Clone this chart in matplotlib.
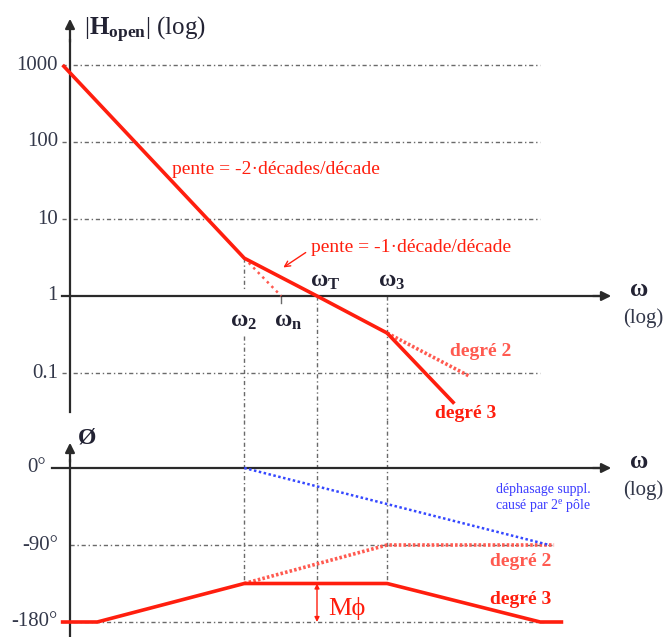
import matplotlib
matplotlib.use('Agg')
import matplotlib.pyplot as plt

plt.rcParams['font.family'] = ['Liberation Serif', 'DejaVu Serif']
plt.rcParams['mathtext.fontset'] = 'custom'
plt.rcParams['mathtext.rm'] = 'Liberation Serif'
plt.rcParams['mathtext.bf'] = 'Liberation Serif:bold'
plt.rcParams['mathtext.it'] = 'Liberation Serif:italic'

# ---------------- data ----------------
mag_ticks = [1000, 100, 10, 1, 0.1]
mag_tick_labels = ['1000', '100', '10', '1', '0.1']
phase_ticks = [0, -90, -180]
phase_tick_labels = ['0°', '-90°', '-180°']

w2 = 0.32
wn = 0.57
wT = 1.0
w3 = 3.0

mag_omega = [0.0186, 0.32, 1.0, 3.0]
mag_main = [1000, 3.1, 1.0, 0.33]
deg3_mag_omega = [3.0, 8.6]
deg3_mag = [0.33, 0.04]
deg2_mag_omega = [3.0, 11.0]
deg2_mag = [0.33, 0.09]
asym_omega = [0.32, 0.57]
asym_mag = [3.1, 1.0]

deg3_phase_omega = [0.0186, 0.032, 0.32, 3.0, 33, 46]
deg3_phase = [-180, -180, -135, -135, -180, -180]
deg2_phase_omega = [0.32, 3.0, 41]
deg2_phase = [-135, -90, -90]
extra_phase_omega = [0.32, 38]
extra_phase = [0, -90]
margin_phase = [-135, -180]

# ------------- helpers (pixel -> data for layout) -------------
def px2w(px):
    return 10 ** ((px - 317) / 147)

def py2mag(py):
    return 10 ** ((296 - py) / 77)

def py2ph(py):
    return (468 - py) * 90 / 77

RED = '#ff1e0e'
RED2 = '#ff5a50'
AX = '#2a2a2a'
TXT = '#33384a'
DARK = '#222233'
GRID = '#6a6a6a'
GLS = (0, (3, 2, 1, 2))

fig = plt.figure(figsize=(6.65, 6.37), dpi=100)
ax1 = fig.add_axes([0, 217 / 637, 1, 420 / 637])
ax2 = fig.add_axes([0, 0, 1, 217 / 637])
for ax in (ax1, ax2):
    ax.set_xscale('log')
    ax.set_xlim(px2w(0), px2w(665))
    ax.axis('off')
ax1.set_yscale('log')
ax1.set_ylim(py2mag(420), py2mag(0))
ax2.set_ylim(py2ph(637), py2ph(420))

xa = px2w(70)

# ---------- top panel ----------
for t, lab in zip(mag_ticks, mag_tick_labels):
    if t != 1:
        ax1.plot([px2w(62), px2w(540)], [t, t], color=GRID, lw=1, ls=GLS, zorder=1)
    ax1.text(px2w(58), t, lab, ha='right', va='center', fontsize=15, color=TXT)
ax1.plot([xa, xa], [py2mag(412), py2mag(40)], color=AX, lw=1.6, zorder=3)
ax1.annotate('', xy=(xa, py2mag(16)), xytext=(xa, py2mag(45)),
             arrowprops=dict(arrowstyle='-|>', color=AX, lw=1.6, mutation_scale=14))
ax1.plot([px2w(62), px2w(600)], [1, 1], color=AX, lw=1.6, zorder=3)
ax1.annotate('', xy=(px2w(614), 1), xytext=(px2w(590), 1),
             arrowprops=dict(arrowstyle='-|>', color=AX, lw=1.6, mutation_scale=14))

ax1.plot([w2, w2], [asym_mag[0], py2mag(290)], color=GRID, lw=1, ls=GLS, zorder=1)
ax1.plot([w2, w2], [py2mag(336), py2mag(420)], color=GRID, lw=1, ls=GLS, zorder=1)
ax1.plot([wn, wn], [1, py2mag(303)], color=GRID, lw=1, zorder=1)
ax1.plot([wT, wT], [1, py2mag(420)], color=GRID, lw=1, ls=GLS, zorder=1)
ax1.plot([w3, w3], [1, py2mag(420)], color=GRID, lw=1, ls=GLS, zorder=1)

ax1.plot(mag_omega, mag_main, color=RED, lw=2.6, zorder=5, solid_capstyle='butt')
ax1.plot(deg3_mag_omega, deg3_mag, color=RED, lw=2.6, zorder=5, solid_capstyle='butt')
ax1.plot(deg2_mag_omega, deg2_mag, color=RED2, lw=2.6, ls=(0, (0.7, 0.6)), zorder=4)
ax1.plot(asym_omega, asym_mag, color=RED2, lw=1.8, ls=(0, (1, 1.6)), zorder=4)

ax1.text(px2w(84), py2mag(30), r'$|\mathbf{H}_{\mathbf{open}}|$ (log)', ha='left',
         va='center', fontsize=18, color=DARK)
ax1.text(px2w(639), py2mag(290), r'$\mathbf{\omega}$', ha='center', va='center',
         fontsize=18, color=DARK)
ax1.text(px2w(643), py2mag(318), '(log)', ha='center', va='center', fontsize=15,
         color=TXT)
ax1.text(px2w(172), py2mag(170), 'pente = -2·décades/décade', ha='left', va='center',
         fontsize=14, color=RED)
ax1.text(px2w(311), py2mag(247), 'pente = -1·décade/décade', ha='left', va='center',
         fontsize=14, color=RED)
ax1.annotate('', xy=(px2w(281), py2mag(269)), xytext=(px2w(308), py2mag(251)),
             arrowprops=dict(arrowstyle='->', color=RED, lw=1, mutation_scale=10))
ax1.text(px2w(244), py2mag(322), r'$\mathbf{\omega_2}$', ha='center', va='center',
         fontsize=17, color=DARK)
ax1.text(px2w(288), py2mag(322), r'$\mathbf{\omega_n}$', ha='center',
         va='center', fontsize=17, color=DARK)
ax1.text(px2w(325), py2mag(282), r'$\mathbf{\omega_T}$', ha='center',
         va='center', fontsize=17, color=DARK)
ax1.text(px2w(392), py2mag(282), r'$\mathbf{\omega_3}$', ha='center', va='center',
         fontsize=17, color=DARK)
ax1.text(px2w(481), py2mag(352), 'degré 2', ha='center', va='center', fontsize=14,
         fontweight='bold', color=RED2)
ax1.text(px2w(466), py2mag(413), 'degré 3', ha='center', va='center', fontsize=14,
         fontweight='bold', color=RED)

# ---------- bottom panel ----------
ax2.plot([px2w(70), px2w(553)], [-90, -90], color=GRID, lw=1, ls=GLS, zorder=1)
ax2.plot([px2w(62), px2w(545)], [-180, -180], color=GRID, lw=1, ls=GLS, zorder=1)
label_right = [46, 58, 58]
for t, lab, r in zip(phase_ticks, phase_tick_labels, label_right):
    ax2.text(px2w(r), t, lab, ha='right', va='center', fontsize=15, color=TXT)

ax2.plot([xa, xa], [py2ph(640), py2ph(460)], color=AX, lw=1.6, zorder=3)
ax2.annotate('', xy=(xa, py2ph(440)), xytext=(xa, py2ph(465)),
             arrowprops=dict(arrowstyle='-|>', color=AX, lw=1.6, mutation_scale=14))
ax2.plot([px2w(52), px2w(600)], [0, 0], color=AX, lw=1.6, zorder=3)
ax2.annotate('', xy=(px2w(614), 0), xytext=(px2w(590), 0),
             arrowprops=dict(arrowstyle='-|>', color=AX, lw=1.6, mutation_scale=14))

for w in (w2, wT, w3):
    ax2.plot([w, w], [py2ph(420), -135], color=GRID, lw=1, ls=GLS, zorder=1)

ax2.plot(deg3_phase_omega, deg3_phase, color=RED, lw=2.6, zorder=5, clip_on=False)
ax2.plot(deg2_phase_omega, deg2_phase, color=RED2, lw=2.6, ls=(0, (0.7, 0.6)), zorder=4)
ax2.plot(extra_phase_omega, extra_phase, color='#3548ff', lw=1.8, ls=(0, (1, 1)), zorder=4)
ax2.annotate('', xy=(wT, margin_phase[1]), xytext=(wT, margin_phase[0]),
             arrowprops=dict(arrowstyle='<|-|>', color=RED, lw=1, mutation_scale=7,
                             shrinkA=0, shrinkB=0))

ax2.text(px2w(78), py2ph(438), 'Ø', ha='left', va='center', fontsize=17,
         fontweight='bold', color=DARK)
ax2.text(px2w(639), py2ph(462), r'$\mathbf{\omega}$', ha='center', va='center',
         fontsize=18, color=DARK)
ax2.text(px2w(643), py2ph(490), '(log)', ha='center', va='center', fontsize=15,
         color=TXT)
ax2.text(px2w(543), py2ph(489), 'déphasage suppl.', ha='center', va='center',
         fontsize=10, color='#3a3aff')
ax2.text(px2w(543), py2ph(505), r'causé par 2$^{\mathrm{e}}$ pôle', ha='center',
         va='center', fontsize=10, color='#3a3aff')
ax2.text(px2w(521), py2ph(562), 'degré 2', ha='center', va='center', fontsize=14,
         fontweight='bold', color=RED2)
ax2.text(px2w(521), py2ph(600), 'degré 3', ha='center', va='center', fontsize=14,
         fontweight='bold', color=RED)
ax2.text(px2w(328), py2ph(608), 'Mϕ', ha='left', va='center', fontsize=19, color=RED)

fig.savefig('out.png', dpi=100)
